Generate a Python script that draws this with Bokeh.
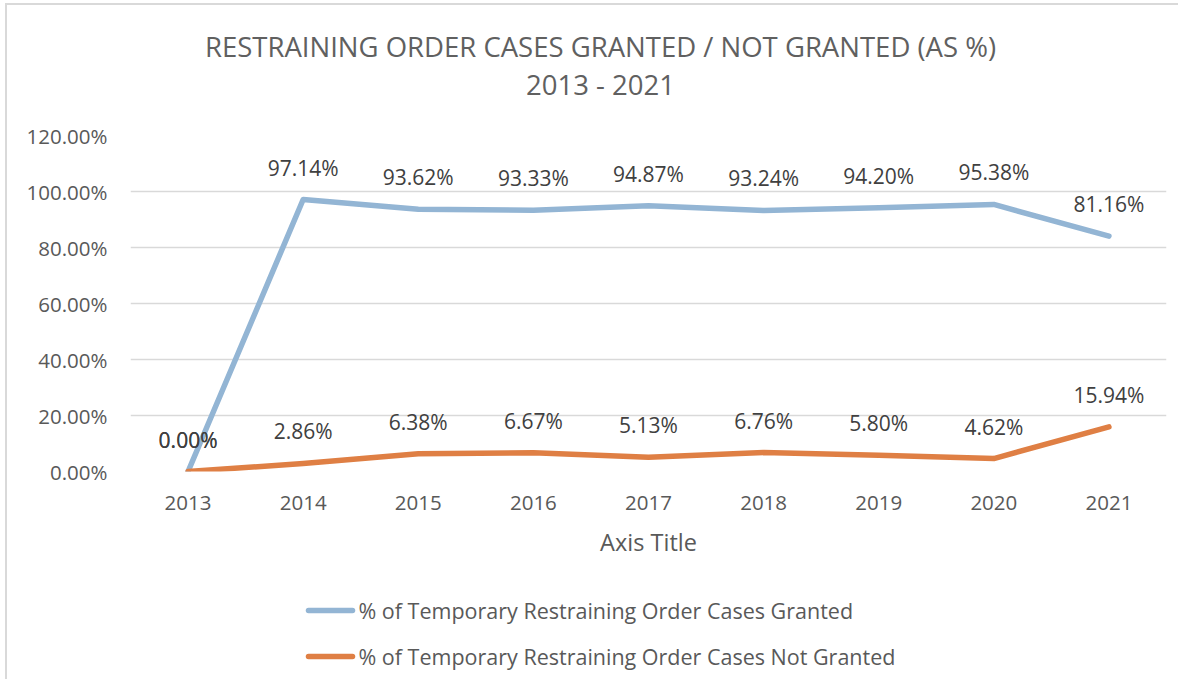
from bokeh.plotting import figure
from bokeh.layouts import column
from bokeh.models import NumeralTickFormatter, FixedTicker, ColumnDataSource, Range1d
from bokeh.core.properties import value
from bokeh.embed import file_html
from bokeh.resources import INLINE

years = ["2013", "2014", "2015", "2016", "2017", "2018", "2019", "2020", "2021"]
granted = [0.0, 97.14, 93.62, 93.33, 94.87, 93.24, 94.20, 95.38, 84.06]
not_granted = [0.0, 2.86, 6.38, 6.67, 5.13, 6.76, 5.80, 4.62, 15.94]
granted_labels = ["0.00%", "97.14%", "93.62%", "93.33%", "94.87%", "93.24%", "94.20%", "95.38%", "81.16%"]
not_granted_labels = ["0.00%", "2.86%", "6.38%", "6.67%", "5.13%", "6.76%", "5.80%", "4.62%", "15.94%"]
y_ticks = [0.0, 0.2, 0.4, 0.6, 0.8, 1.0, 1.2]
title_lines = ["RESTRAINING ORDER CASES GRANTED / NOT GRANTED (AS %)", "2013 - 2021"]
series_names = ["% of Temporary Restraining Order Cases Granted",
                "% of Temporary Restraining Order Cases Not Granted"]
x_title = "Axis Title"

FONT = "Open Sans"
BLUE = "#93B5D4"
ORANGE = "#DF7F44"
GRAY = "#595959"
DARK = "#404040"

OX, OY = 7, 5          # offset of content caused by the outer border
W = 1171
FL, FR = 130, 1166     # frame left/right in page pixels


def blank(h, top):
    f = figure(width=W, height=h, x_range=Range1d(FL, FR), y_range=Range1d(top + h, top),
               output_backend="svg", toolbar_location=None, min_border=0)
    f.axis.visible = False
    f.grid.visible = False
    f.outline_line_color = None
    return f


# ---- title block ----
TH = 110
pt = blank(TH, OY)
pt.text(x=[600, 600], y=[46, 84], text=title_lines, text_font=value(FONT), text_font_size="27.5px",
        text_color="#606060", text_align="center", text_baseline="middle")

# ---- main chart ----
MH = 460
p = figure(width=W, height=MH, x_range=years, y_range=(0, 1.2),
           output_backend="svg", toolbar_location=None,
           min_border_left=FL - OX, min_border_right=12, min_border_top=135 - OY - TH,
           min_border_bottom=OY + TH + MH - 471)
p.outline_line_color = None

src_g = ColumnDataSource(dict(x=years, y=[v / 100 for v in granted], t=granted_labels))
src_n = ColumnDataSource(dict(x=years, y=[v / 100 for v in not_granted], t=not_granted_labels))

p.line("x", "y", source=src_g, line_color=BLUE, line_width=5.5, line_cap="round", line_join="round")
p.line("x", "y", source=src_n, line_color=ORANGE, line_width=5.5, line_cap="round", line_join="round")

for src in (src_g, src_n):
    p.text("x", "y", text="t", source=src, text_font=value(FONT), text_font_size="21px",
           text_color=DARK, text_align="center", text_baseline="middle", y_offset=-32)

p.yaxis.ticker = FixedTicker(ticks=y_ticks)
p.yaxis.formatter = NumeralTickFormatter(format="0.00%")
for ax in (p.xaxis, p.yaxis):
    ax.axis_line_color = None
    ax.major_tick_line_color = None
    ax.minor_tick_line_color = None
    ax.major_label_text_font = FONT
    ax.major_label_text_font_size = "20.5px"
    ax.major_label_text_color = GRAY
p.yaxis.major_label_standoff = 17
p.xaxis.major_label_standoff = 18
p.xaxis.axis_label = x_title
p.xaxis.axis_label_text_font = FONT
p.xaxis.axis_label_text_font_size = "23.5px"
p.xaxis.axis_label_text_font_style = "normal"
p.xaxis.axis_label_text_color = GRAY
p.xaxis.axis_label_standoff = 13

p.xgrid.grid_line_color = None
p.ygrid.grid_line_color = "#D9D9D9"
p.ygrid.grid_line_width = 1.5
p.ygrid.ticker = FixedTicker(ticks=y_ticks)

# ---- legend block ----
LH = 104
pl = blank(LH, OY + TH + MH)
leg_y = [610, 656]
pl.segment(x0=[308, 308], y0=leg_y, x1=[352, 352], y1=leg_y, line_color=[BLUE, ORANGE],
           line_width=5.5, line_cap="round")
pl.text(x=[358, 358], y=leg_y, text=series_names, text_font=value(FONT), text_font_size="21.5px",
        text_color=GRAY, text_align="left", text_baseline="middle")

layout = column(pt, p, pl, spacing=0,
                styles={"border-left": "2px solid #D9D9D9", "border-top": "2px solid #D9D9D9",
                        "margin-left": "5px", "margin-top": "3px"})
open("out.html", "w").write(file_html(layout, INLINE))
